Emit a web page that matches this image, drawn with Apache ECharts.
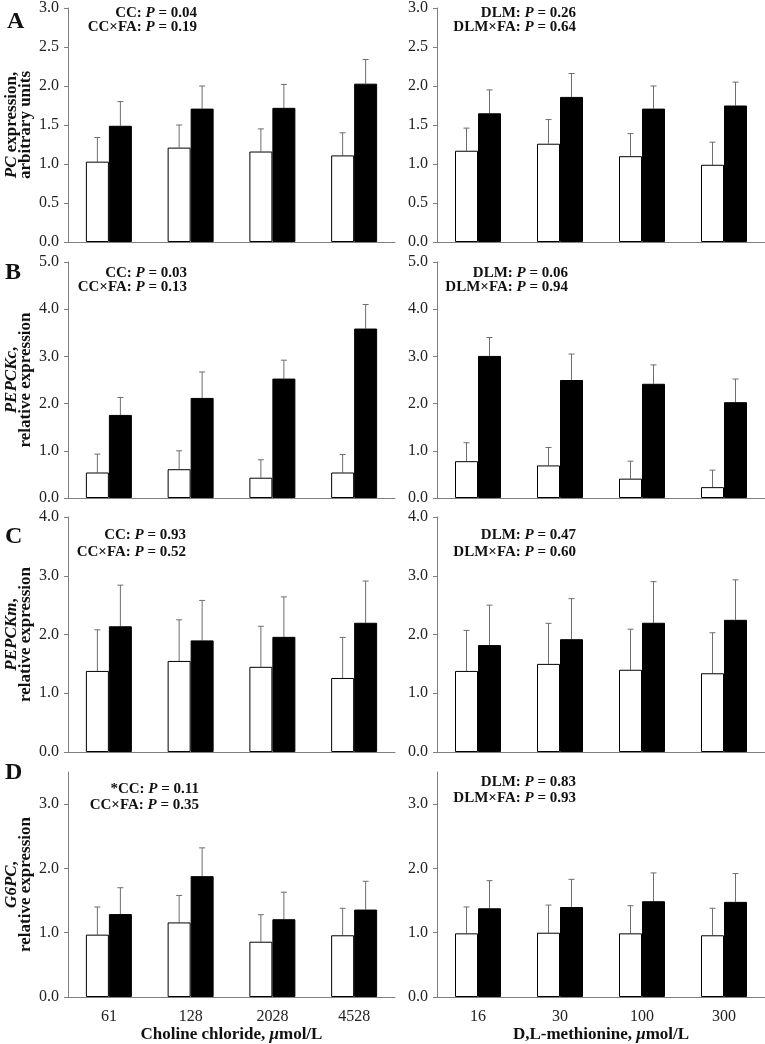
<!DOCTYPE html>
<html>
<head>
<meta charset="utf-8">
<script src="https://cdn.jsdelivr.net/npm/echarts@6/dist/echarts.min.js"></script>
<style>
html,body{margin:0;padding:0;background:#fff;}
#chart{width:765px;height:1044px;}
</style>
</head>
<body>
<div id="chart"></div>
<script>
// ---------- categories ----------
const ccLabels = ['61', '128', '2028', '4528'];
const dlmLabels = ['16', '30', '100', '300'];

// ---------- Panel A: PC ----------
const pcCC_ctrl = [1.03, 1.21, 1.16, 1.11];
const pcCC_ctrlSD = [0.31, 0.29, 0.29, 0.29];
const pcCC_fa = [1.49, 1.71, 1.72, 2.03];
const pcCC_faSD = [0.31, 0.29, 0.30, 0.31];
const pcDLM_ctrl = [1.17, 1.26, 1.10, 0.99];
const pcDLM_ctrlSD = [0.29, 0.31, 0.29, 0.29];
const pcDLM_fa = [1.65, 1.86, 1.71, 1.75];
const pcDLM_faSD = [0.30, 0.30, 0.29, 0.30];

// ---------- Panel B: PEPCKc ----------
const pepckcCC_ctrl = [0.54, 0.61, 0.43, 0.54];
const pepckcCC_ctrlSD = [0.39, 0.39, 0.38, 0.38];
const pepckcCC_fa = [1.76, 2.12, 2.53, 3.59];
const pepckcCC_faSD = [0.37, 0.55, 0.39, 0.51];
const pepckcDLM_ctrl = [0.78, 0.69, 0.41, 0.23];
const pepckcDLM_ctrlSD = [0.39, 0.38, 0.37, 0.36];
const pepckcDLM_fa = [3.01, 2.50, 2.42, 2.03];
const pepckcDLM_faSD = [0.39, 0.55, 0.40, 0.49];

// ---------- Panel C: PEPCKm ----------
const pepckmCC_ctrl = [1.38, 1.55, 1.45, 1.26];
const pepckmCC_ctrlSD = [0.70, 0.70, 0.69, 0.69];
const pepckmCC_fa = [2.14, 1.90, 1.96, 2.20];
const pepckmCC_faSD = [0.70, 0.68, 0.68, 0.71];
const pepckmDLM_ctrl = [1.38, 1.50, 1.40, 1.34];
const pepckmDLM_ctrlSD = [0.69, 0.69, 0.69, 0.69];
const pepckmDLM_fa = [1.82, 1.92, 2.20, 2.25];
const pepckmDLM_faSD = [0.68, 0.69, 0.70, 0.68];

// ---------- Panel D: G6PC ----------
const g6pcCC_ctrl = [0.97, 1.16, 0.86, 0.96];
const g6pcCC_ctrlSD = [0.43, 0.42, 0.42, 0.42];
const g6pcCC_fa = [1.29, 1.88, 1.21, 1.36];
const g6pcCC_faSD = [0.41, 0.44, 0.42, 0.44];
const g6pcDLM_ctrl = [0.99, 1.00, 0.99, 0.96];
const g6pcDLM_ctrlSD = [0.41, 0.43, 0.43, 0.42];
const g6pcDLM_fa = [1.38, 1.40, 1.49, 1.48];
const g6pcDLM_faSD = [0.43, 0.43, 0.44, 0.44];

// ---------- y-axis scales ----------
const yMaxA = 3.0, yIntA = 0.5;
const yMaxB = 5.0, yIntB = 1;
const yMaxC = 4.0, yIntC = 1;
const yMaxD = 3.5, yIntD = 1;
const yTicksD = [0, 1, 2, 3];

// ---------- texts ----------
const panelLetters = ['A', 'B', 'C', 'D'];
const yNames = [
  '{i|PC}{b| expression,}\n{b|arbitrary units}',
  '{i|PEPCKc}{b|,}\n{b|relative expression}',
  '{i|PEPCKm}{b|,}\n{b|relative expression}',
  '{i|G6PC}{b|,}\n{b|relative expression}'
];
const pTextsCC = [['CC', '0.04', '0.19'], ['CC', '0.03', '0.13'], ['CC', '0.93', '0.52'], ['*CC', '0.11', '0.35']];
const pTextsDLM = [['DLM', '0.26', '0.64'], ['DLM', '0.06', '0.94'], ['DLM', '0.47', '0.60'], ['DLM', '0.83', '0.93']];

const FONT = "'Liberation Serif','Times New Roman',serif";
const AXIS_COLOR = '#7f7f7f';

const rows = [
  {top: 5, height: 237, max: yMaxA, interval: yIntA,
   cc: [pcCC_ctrl, pcCC_ctrlSD, pcCC_fa, pcCC_faSD],
   dlm: [pcDLM_ctrl, pcDLM_ctrlSD, pcDLM_fa, pcDLM_faSD]},
  {top: 262, height: 236, max: yMaxB, interval: yIntB,
   cc: [pepckcCC_ctrl, pepckcCC_ctrlSD, pepckcCC_fa, pepckcCC_faSD],
   dlm: [pepckcDLM_ctrl, pepckcDLM_ctrlSD, pepckcDLM_fa, pepckcDLM_faSD]},
  {top: 517, height: 235, max: yMaxC, interval: yIntC,
   cc: [pepckmCC_ctrl, pepckmCC_ctrlSD, pepckmCC_fa, pepckmCC_faSD],
   dlm: [pepckmDLM_ctrl, pepckmDLM_ctrlSD, pepckmDLM_fa, pepckmDLM_faSD]},
  {top: 772, height: 225, max: yMaxD, interval: yIntD, ticks: yTicksD,
   cc: [g6pcCC_ctrl, g6pcCC_ctrlSD, g6pcCC_fa, g6pcCC_faSD],
   dlm: [g6pcDLM_ctrl, g6pcDLM_ctrlSD, g6pcDLM_fa, g6pcDLM_faSD]}
];
const cols = [{left: 68, width: 327}, {left: 437, width: 328}];

// annotation positions [row][col] : right x, y line1, y line2
const annPos = [
  [[197, 13, 27], [576, 13, 27]],
  [[187, 273, 287], [568, 273, 287]],
  [[186, 535, 552], [576, 535, 552]],
  [[199, 789, 805], [576, 782, 798]]
];
const letterPos = [[7, 22], [5, 273], [5, 537], [5, 773]];

const BAR_W = 23;

const grid = [], xAxis = [], yAxis = [], series = [], graphic = [];

function errSeries(idx, means, sds, off) {
  return {
    type: 'custom', xAxisIndex: idx, yAxisIndex: idx, z: 1,
    data: means.map((m, i) => [i, m, sds[i]]),
    renderItem: function (params, api) {
      const c = api.value(0), m = api.value(1), s = api.value(2);
      const p0 = api.coord([c, m]);
      const p1 = api.coord([c, m + s]);
      const x = p0[0] + off;
      const st = {stroke: '#6e6e6e', lineWidth: 1};
      return {type: 'group', children: [
        {type: 'line', shape: {x1: x, y1: p0[1], x2: x, y2: p1[1]}, style: st},
        {type: 'line', shape: {x1: x - 3, y1: p1[1], x2: x + 3, y2: p1[1]}, style: st}
      ]};
    }
  };
}

rows.forEach((row, r) => {
  cols.forEach((col, c) => {
    const idx = r * 2 + c;
    const isBottom = r === 3;
    grid.push({left: col.left, top: row.top, width: col.width, height: row.height, containLabel: false});
    const xName = c === 0
      ? '{b|Choline chloride, }{i|μ}{b|mol/L}'
      : '{b|D,L-methionine, }{i|μ}{b|mol/L}';
    xAxis.push({
      type: 'category', gridIndex: idx, data: c === 0 ? ccLabels : dlmLabels,
      axisLine: {lineStyle: {color: AXIS_COLOR, width: 1}},
      axisTick: {show: false},
      axisLabel: {show: isBottom, fontFamily: FONT, fontSize: 16, color: '#222', margin: 12},
      name: isBottom ? xName : '',
      nameLocation: 'middle', nameGap: 27,
      nameTextStyle: {
        rich: {
          b: {fontFamily: FONT, fontSize: 17, fontWeight: 'bold', color: '#111'},
          i: {fontFamily: FONT, fontSize: 17, fontWeight: 'bold', fontStyle: 'italic', color: '#111'}
        }
      }
    });
    const yA = {
      type: 'value', gridIndex: idx, min: 0, max: row.max, interval: row.interval,
      axisLine: {show: true, lineStyle: {color: AXIS_COLOR, width: 1}},
      axisTick: {show: true, length: 4, lineStyle: {color: AXIS_COLOR}},
      splitLine: {show: false},
      axisLabel: {fontFamily: FONT, fontSize: 16, color: '#222', margin: 9,
        formatter: v => v.toFixed(1)},
      name: c === 0 ? yNames[r] : '',
      nameLocation: 'middle', nameRotate: 90, nameGap: 35,
      nameTextStyle: {
        rich: {
          b: {fontFamily: FONT, fontSize: 17, fontWeight: 'bold', color: '#111', lineHeight: 14},
          i: {fontFamily: FONT, fontSize: 17, fontWeight: 'bold', fontStyle: 'italic', color: '#111', lineHeight: 14}
        }
      }
    };
    if (row.ticks) {
      yA.axisLabel.customValues = row.ticks;
      yA.axisTick.customValues = row.ticks;
    }
    yAxis.push(yA);

    const d = c === 0 ? row.cc : row.dlm;
    series.push({
      type: 'bar', xAxisIndex: idx, yAxisIndex: idx, data: d[0], barWidth: BAR_W, barGap: '0%', z: 2,
      itemStyle: {color: '#ffffff', borderColor: '#000', borderWidth: 1}
    });
    series.push({
      type: 'bar', xAxisIndex: idx, yAxisIndex: idx, data: d[2], barWidth: BAR_W, barGap: '0%', z: 2,
      itemStyle: {color: '#000000', borderColor: '#000', borderWidth: 1}
    });
    series.push(errSeries(idx, d[0], d[1], -BAR_W / 2));
    series.push(errSeries(idx, d[2], d[3], BAR_W / 2));

    // annotations
    const t = c === 0 ? pTextsCC[r] : pTextsDLM[r];
    const ap = annPos[r][c];
    const richA = {
      b: {fontFamily: FONT, fontSize: 15, fontWeight: 'bold', fill: '#111'},
      i: {fontFamily: FONT, fontSize: 15, fontWeight: 'bold', fontStyle: 'italic', fill: '#111'}
    };
    graphic.push({type: 'text', x: ap[0], y: ap[1], z: 10, style: {
      text: '{b|' + t[0] + ': }{i|P}{b| = ' + t[1] + '}', rich: richA, align: 'right', verticalAlign: 'middle'}});
    graphic.push({type: 'text', x: ap[0], y: ap[2], z: 10, style: {
      text: '{b|' + t[0].replace('*', '') + '×FA: }{i|P}{b| = ' + t[2] + '}', rich: richA, align: 'right', verticalAlign: 'middle'}});
  });
  graphic.push({type: 'text', x: letterPos[r][0], y: letterPos[r][1], z: 10, style: {
    text: panelLetters[r], font: 'bold 24px ' + FONT, fill: '#111', align: 'left', verticalAlign: 'middle'}});
});

const chart = echarts.init(document.getElementById('chart'), null, {renderer: 'canvas'});
chart.setOption({
  animation: false,
  backgroundColor: '#fff',
  grid, xAxis, yAxis, series, graphic
});
</script>
</body>
</html>
